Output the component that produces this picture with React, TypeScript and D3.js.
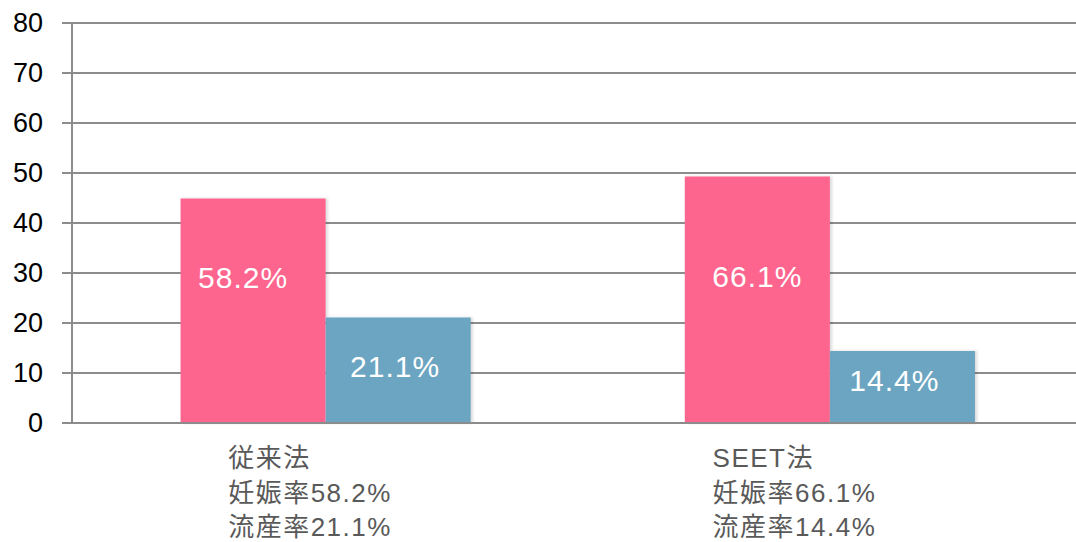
import React from "react";
import * as d3 from "d3";

const categories = ["従来法", "SEET法"];
const series = ["pregnancy", "miscarriage"];
const pregnancyValues = [44.9, 49.3];
const miscarriageValues = [21.1, 14.4];
const barLabels = [["58.2%", "21.1%"], ["66.1%", "14.4%"]];
const categoryLines = [
  ["従来法", "妊娠率58.2%", "流産率21.1%"],
  ["SEET法", "妊娠率66.1%", "流産率14.4%"],
];
const yTicks = [0, 10, 20, 30, 40, 50, 60, 70, 80];

const W = 1076;
const H = 542;
const colors = ["#FE658E", "#6CA5C1"];
const gridColor = "#8c8c8c";

export default function App() {
  const y = d3.scaleLinear().domain([0, 80]).range([423, 23]);
  const x0 = d3.scaleBand<string>().domain(categories).range([73.5, 1082]).paddingInner(0).paddingOuter(0);
  const x1 = d3.scaleBand<string>().domain(series).range([0, x0.bandwidth()]).paddingInner(0).paddingOuter(0.738);
  const values = [pregnancyValues, miscarriageValues];
  const labelDx = [[-10, -3], [0, -8]];
  const labelDy = [[-33.5, -3.5], [-23, -7]];
  const catLabelDx = [-97.5, -117.3];

  return (
    <svg width={W} height={H} style={{ position: "absolute", left: 0, top: 0, background: "#fff" }}>
      <defs>
        <filter id="sh" x="-10%" y="-10%" width="125%" height="120%">
          <feDropShadow dx="2" dy="0" stdDeviation="1.5" floodColor="#000" floodOpacity="0.15" />
        </filter>
      </defs>
      {yTicks.map((t) => (
        <g key={t}>
          <line x1={62} x2={W} y1={y(t)} y2={y(t)} stroke={gridColor} strokeWidth={2} />
          <text x={43} y={y(t)} dy="0.35em" textAnchor="end" fontFamily="'Liberation Sans', Arial, sans-serif" fontSize={27} fill="#000">
            {t}
          </text>
        </g>
      ))}
      <line x1={72} x2={72} y1={y(80)} y2={y(0) + 1} stroke={gridColor} strokeWidth={2} />
      {categories.map((c, ci) =>
        series.map((s, si) => {
          const v = values[si][ci];
          const bx = (x0(c) as number) + (x1(s) as number);
          const bw = x1.bandwidth();
          return (
            <g key={c + s}>
              <rect x={bx} y={y(v)} width={bw} height={y(0) - y(v)} fill={colors[si]} filter="url(#sh)" />
            </g>
          );
        })
      )}
      {categories.map((c, ci) =>
        series.map((s, si) => {
          const v = values[si][ci];
          const bx = (x0(c) as number) + (x1(s) as number);
          const bw = x1.bandwidth();
          return (
            <text
              key={"l" + c + s}
              x={bx + bw / 2 + labelDx[ci][si]}
              y={(y(v) + y(0)) / 2 + labelDy[ci][si]}
              textAnchor="middle"
              dy="0.35em"
              fontFamily="'Liberation Sans', Arial, sans-serif"
              fontSize={30}
              letterSpacing={1}
              fill="#fff"
            >
              {barLabels[ci][si]}
            </text>
          );
        })
      )}
      <line x1={62} x2={W} y1={y(0)} y2={y(0)} stroke={gridColor} strokeWidth={2} />
      {categories.map((c, ci) => {
        const cx = (x0(c) as number) + x0.bandwidth() / 2 + catLabelDx[ci];
        return (
          <text key={"c" + c} fontFamily="'Liberation Sans', 'Noto Sans CJK JP', sans-serif" fontSize={26} letterSpacing={1.5} fill="#595959">
            {categoryLines[ci].map((line, li) => (
              <tspan key={li} x={cx} y={467 + li * 34.5}>
                {line}
              </tspan>
            ))}
          </text>
        );
      })}
    </svg>
  );
}
